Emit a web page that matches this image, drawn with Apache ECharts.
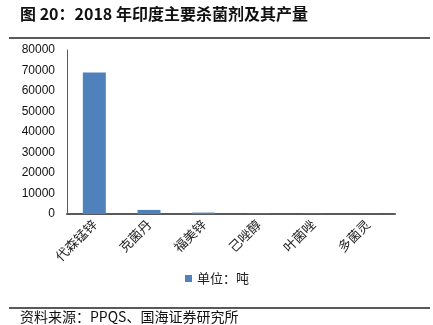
<!DOCTYPE html>
<html><head><meta charset="utf-8">
<script src="https://cdn.jsdelivr.net/npm/echarts@6/dist/echarts.min.js"></script>
<style>html,body{margin:0;padding:0;background:#fff}#c{width:433px;height:325px}</style>
</head><body><div id="c"></div>
<script>
const categories = ['代森锰锌','克菌丹','福美锌','己唑醇','叶菌唑','多菌灵'];
const values = [69000, 2000, 700, 150, 120, 100];
const seriesName = '单位：吨';
const titleText = '图 20：2018 年印度主要杀菌剂及其产量';
const sourceText = '资料来源：PPQS、国海证券研究所';
const cjk = '"Noto Sans CJK SC", sans-serif';
const chart = echarts.init(document.getElementById('c'));
chart.setOption({
  animation: false,
  backgroundColor: '#fff',
  grid: {left: 67, right: 38, top: 50, bottom: 111, containLabel: false},
  legend: {data: [seriesName], left: 180, top: 267, itemWidth: 7, itemHeight: 7, itemGap: 4,
    textStyle: {fontFamily: cjk, fontSize: 13, color: '#222'}, icon: 'rect'},
  xAxis: {type: 'category', data: categories,
    axisLine: {lineStyle: {color: '#595959', width: 2}},
    axisTick: {show: false},
    axisLabel: {rotate: 45, fontFamily: cjk, fontSize: 13, color: '#222', margin: 8, interval: 0}},
  yAxis: {type: 'value', min: 0, max: 80000, interval: 10000,
    axisLine: {show: true, lineStyle: {color: '#595959', width: 1}},
    axisTick: {show: false}, splitLine: {show: false},
    axisLabel: {fontFamily: 'Liberation Sans, Arial, sans-serif', fontSize: 12, color: '#111', margin: 12,
      formatter: v => String(v)}},
  series: [{name: seriesName, type: 'bar', data: values, barWidth: 23,
    itemStyle: {color: '#4F81BD'}}],
  graphic: [
    {type: 'text', left: 20, top: 6, style: {text: titleText, fontFamily: cjk, fontWeight: 'bold', fontSize: 16, fill: '#111'}},
    {type: 'line', shape: {x1: 9, y1: 38, x2: 430, y2: 38}, style: {stroke: '#222', lineWidth: 1.5}},
    {type: 'line', shape: {x1: 9, y1: 308, x2: 430, y2: 308}, style: {stroke: '#222', lineWidth: 1.5}},
    {type: 'text', left: 20, top: 310, style: {text: sourceText, fontFamily: cjk, fontSize: 14, fill: '#111'}}
  ]
});
</script></body></html>
